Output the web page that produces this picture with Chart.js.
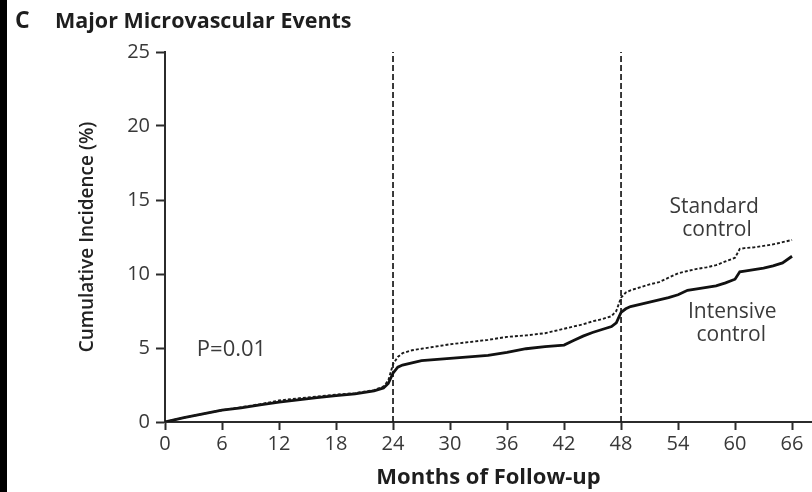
<!DOCTYPE html>
<html>
<head>
<meta charset="utf-8">
<script src="https://cdn.jsdelivr.net/npm/chart.js@4.4.1/dist/chart.umd.min.js"></script>
<style>
  html, body { margin: 0; padding: 0; background: #fff; }
  #wrap { width: 812px; height: 492px; }
</style>
</head>
<body>
<div id="wrap"><canvas id="c" width="812" height="492"></canvas></div>
<script>
// Months of follow-up at which the cumulative incidence is sampled
const months = [0, 2, 4, 6, 8, 10, 12, 14, 16, 18, 20, 22, 23, 23.5, 24, 24.5, 25, 26, 27, 28,
  30, 32, 34, 36, 38, 40, 42, 43, 44, 45, 46, 47, 47.5, 48, 48.5, 49, 50, 51, 52, 53,
  54, 55, 56, 57, 58, 59, 60, 60.5, 61, 62, 63, 64, 65, 66];

// Cumulative incidence (%) of major microvascular events
const intensiveControl = [0, 0.3, 0.55, 0.8, 0.95, 1.15, 1.35, 1.5, 1.65, 1.78, 1.9, 2.1, 2.3, 2.6, 3.3, 3.7, 3.85, 4.0, 4.15, 4.2,
  4.3, 4.4, 4.5, 4.7, 4.95, 5.1, 5.2, 5.5, 5.8, 6.05, 6.25, 6.45, 6.7, 7.4, 7.65, 7.8, 7.95, 8.1, 8.25, 8.4,
  8.6, 8.9, 9.0, 9.1, 9.2, 9.4, 9.65, 10.15, 10.2, 10.3, 10.4, 10.55, 10.75, 11.2];

const standardControl = [0, 0.3, 0.55, 0.8, 1.0, 1.2, 1.45, 1.6, 1.72, 1.85, 1.95, 2.15, 2.4, 2.8, 3.9, 4.4, 4.65, 4.85, 4.95, 5.05,
  5.25, 5.4, 5.55, 5.75, 5.85, 6.0, 6.3, 6.45, 6.6, 6.8, 6.95, 7.15, 7.5, 8.4, 8.75, 8.9, 9.1, 9.3, 9.45, 9.75,
  10.05, 10.2, 10.35, 10.45, 10.6, 10.85, 11.1, 11.7, 11.75, 11.8, 11.9, 12.0, 12.15, 12.3];

// Axis ticks and the yearly reference lines
const xTickLabels = [0, 6, 12, 18, 24, 30, 36, 42, 48, 54, 60, 66];
const yTickLabels = [0, 5, 10, 15, 20, 25];
const referenceMonths = [24, 48];

const FONT = "'Open Sans', 'DejaVu Sans', sans-serif";
const INK = '#2b2b2b';

const toPoints = (xs, ys) => xs.map((x, i) => ({ x, y: ys[i] }));

const referenceSets = referenceMonths.map(m => ({
  label: 'ref' + m,
  data: [{ x: m, y: yTickLabels[0] }, { x: m, y: yTickLabels[yTickLabels.length - 1] }],
  borderColor: '#1a1a1a',
  borderWidth: 1.7,
  borderDash: [6, 3],
  pointRadius: 0,
  fill: false
}));

// Heading, panel strip and in-plot annotations
const decorations = {
  id: 'decorations',
  beforeDraw(chart) {
    const { ctx } = chart;
    ctx.save();
    ctx.fillStyle = '#ffffff';
    ctx.fillRect(0, 0, chart.width, chart.height);
    ctx.fillStyle = '#000000';
    ctx.fillRect(0, 0, 7, chart.height);
    ctx.restore();
  },
  afterDraw(chart) {
    const { ctx } = chart;
    const xs = chart.scales.x, ys = chart.scales.y;
    ctx.save();
    ctx.fillStyle = '#1e1e1e';
    ctx.textBaseline = 'middle';
    ctx.textAlign = 'left';
    ctx.font = "bold 23px " + FONT;
    ctx.fillText('C', 15, 21);
    ctx.font = "bold 21.5px " + FONT;
    ctx.fillText('Major Microvascular Events', 55, 22);

    ctx.fillStyle = '#3a3a3a';
    ctx.textAlign = 'center';
    ctx.font = "21px " + FONT;
    const put = (text, mx, vy) => ctx.fillText(text, xs.getPixelForValue(mx), ys.getPixelForValue(vy));
    ctx.font = "22px " + FONT;
    put('P=0.01', 7.0, 4.86);
    ctx.font = "21px " + FONT;
    put('Standard', 57.8, 14.5);
    put('control', 58.1, 12.95);
    put('Intensive', 59.7, 7.43);
    put('control', 59.6, 5.88);
    ctx.restore();
  }
};

new Chart(document.getElementById('c'), {
  type: 'line',
  data: {
    datasets: [
      {
        label: 'Standard control',
        data: toPoints(months, standardControl),
        borderColor: '#1a1a1a',
        borderWidth: 1.9,
        borderDash: [3, 2],
        pointRadius: 0,
        tension: 0,
        fill: false
      },
      {
        label: 'Intensive control',
        data: toPoints(months, intensiveControl),
        borderColor: '#111111',
        borderWidth: 2.8,
        pointRadius: 0,
        tension: 0,
        fill: false
      },
      ...referenceSets
    ]
  },
  options: {
    responsive: false,
    animation: false,
    devicePixelRatio: 1,
    layout: { padding: { top: 52, right: 0, bottom: 0, left: 0 } },
    plugins: { legend: { display: false }, tooltip: { enabled: false }, title: { display: false } },
    scales: {
      x: {
        type: 'linear',
        min: 0,
        max: 68.1,
        afterBuildTicks(scale) { scale.ticks = xTickLabels.map(v => ({ value: v })); },
        afterFit(scale) { scale.height = 70; },
        border: { display: true, color: INK, width: 2 },
        grid: { drawOnChartArea: false, drawTicks: true, tickLength: 8, tickColor: INK, tickWidth: 2 },
        ticks: { color: '#383838', font: { family: FONT, size: 20 }, padding: 2, maxRotation: 0, autoSkip: false },
        title: { display: true, text: 'Months of Follow-up', color: '#1e1e1e',
                 font: { family: FONT, size: 22, weight: 'bold' }, padding: { top: 0, bottom: 1 } }
      },
      y: {
        type: 'linear',
        min: 0,
        max: 25,
        afterBuildTicks(scale) { scale.ticks = yTickLabels.map(v => ({ value: v })); },
        afterFit(scale) { scale.width = 165; },
        border: { display: true, color: INK, width: 2 },
        grid: { drawOnChartArea: false, drawTicks: true, tickLength: 9, tickColor: INK, tickWidth: 2 },
        ticks: { color: '#383838', font: { family: FONT, size: 20 }, padding: 6 },
        title: { display: true, text: 'Cumulative Incidence (%)', color: '#222',
                 font: { family: FONT, size: 19, weight: '600' }, padding: { top: 76, bottom: 0 } }
      }
    }
  },
  plugins: [decorations]
});
</script>
</body>
</html>
